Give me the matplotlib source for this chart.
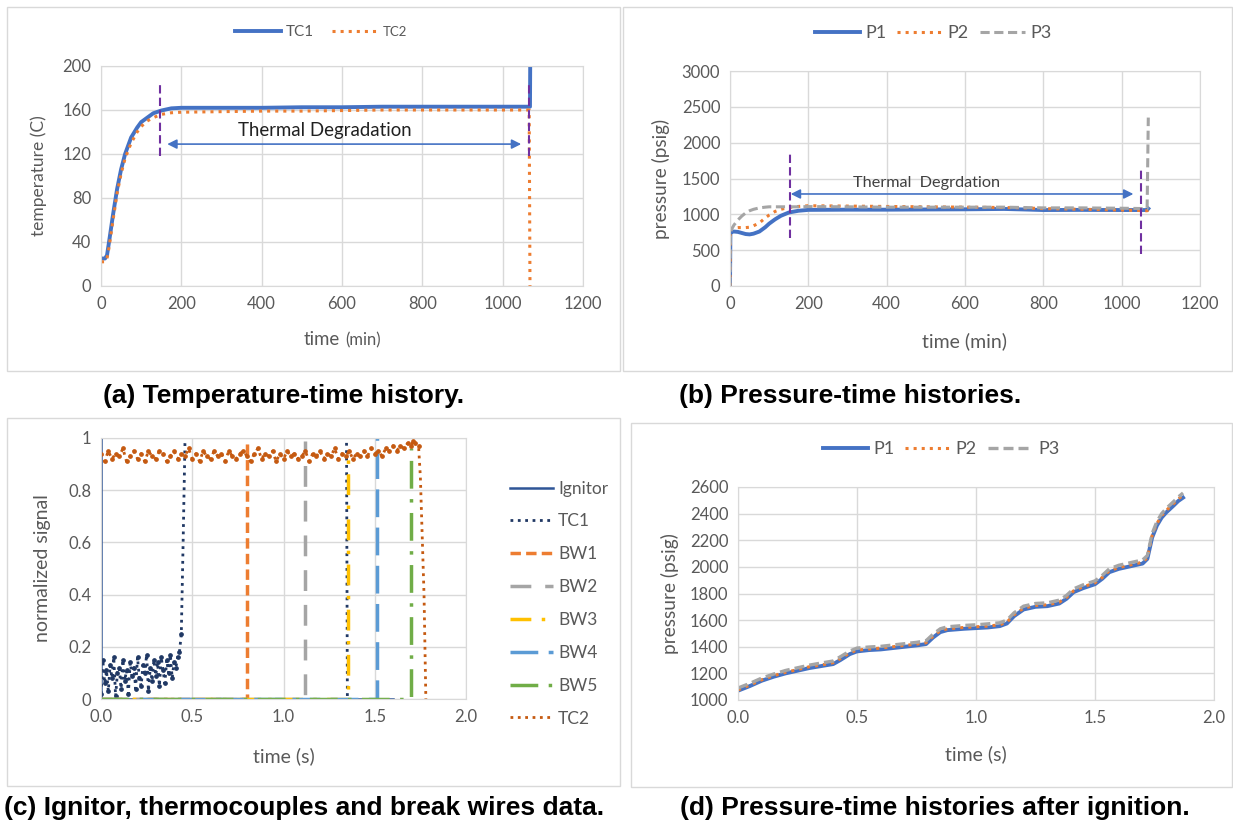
import matplotlib
matplotlib.use("Agg")
import matplotlib.pyplot as plt
from matplotlib.patches import Rectangle

# ---- (a) temperature-time history ----
a_t_tc1 = [0, 10, 15, 20, 30, 40, 50, 60, 75, 90, 100, 115, 130, 150, 175, 200,
           300, 400, 500, 600, 700, 800, 900, 1000, 1066, 1068, 1069]
a_tc1 = [25, 25, 28, 40, 65, 88, 106, 120, 135, 144, 149, 153, 157, 159.5, 161.5, 162,
         162, 162, 162.5, 162.5, 163, 163, 163, 163, 163, 163, 230]
a_t_tc2 = [0, 10, 15, 20, 30, 40, 50, 60, 75, 90, 100, 115, 130, 150, 175, 200,
           300, 400, 500, 600, 700, 800, 900, 1000, 1066, 1068]
a_tc2 = [22, 22, 25, 35, 60, 84, 102, 116, 130, 140, 145, 150, 153, 156, 157.5, 158,
         158.5, 159, 159, 159.5, 160, 160, 160, 160, 160, 0]

# ---- (b) pressure-time histories ----
b_t = [0, 1, 5, 10, 20, 30, 40, 50, 60, 75, 90, 100, 115, 130, 150, 175, 200,
       300, 400, 500, 600, 700, 750, 800, 900, 1000, 1065, 1068]
b_p1 = [0, 740, 755, 760, 755, 740, 725, 720, 730, 760, 820, 870, 930, 980, 1025, 1050, 1062,
        1065, 1065, 1068, 1070, 1075, 1068, 1060, 1062, 1060, 1060, 1080]
b_p2 = [0, 800, 805, 810, 815, 815, 815, 820, 840, 880, 950, 990, 1040, 1070, 1095, 1110, 1120,
        1115, 1110, 1105, 1100, 1095, 1090, 1080, 1070, 1060, 1050, 1060]
b_p3 = [0, 750, 800, 850, 920, 975, 1020, 1050, 1070, 1090, 1100, 1105, 1105, 1105, 1105, 1105, 1108,
        1105, 1100, 1100, 1100, 1100, 1095, 1090, 1090, 1085, 1080, 2350]

# ---- (c) ignitor, thermocouples, break wires ----
c_ign_t = [0, 0, 1.6]
c_ign = [1, 0, 0]
c_tc1_t = [0.00, 0.01, 0.02, 0.03, 0.04, 0.05, 0.06, 0.07, 0.08, 0.09,
           0.10, 0.11, 0.12, 0.13, 0.14, 0.15, 0.16, 0.17, 0.18, 0.19,
           0.20, 0.21, 0.22, 0.23, 0.24, 0.25, 0.26, 0.27, 0.28, 0.29,
           0.30, 0.31, 0.32, 0.33, 0.34, 0.35, 0.36, 0.37, 0.38, 0.39,
           0.40, 0.41, 0.42, 0.43, 0.44, 0.45, 0.46, 0.47, 1.345, 1.35]
c_tc1 = [0.02, 0.15, 0.06, 0.11, 0.03, 0.13, 0.08, 0.16, 0.01, 0.10,
         0.12, 0.04, 0.15, 0.07, 0.11, 0.02, 0.14, 0.09, 0.12, 0.04,
         0.16, 0.08, 0.05, 0.13, 0.10, 0.17, 0.03, 0.12, 0.07, 0.15,
         0.09, 0.14, 0.05, 0.16, 0.11, 0.06, 0.15, 0.10, 0.17, 0.08,
         0.14, 0.12, 0.16, 0.18, 0.25, 0.60, 0.98, 1.05, 1.05, 0.0]
c_tc2_t = [0.00, 0.02, 0.04, 0.06, 0.08, 0.10, 0.12, 0.14, 0.16, 0.18,
           0.20, 0.22, 0.24, 0.26, 0.28, 0.30, 0.32, 0.34, 0.36, 0.38,
           0.40, 0.42, 0.44, 0.46, 0.48, 0.50, 0.52, 0.54, 0.56, 0.58,
           0.60, 0.62, 0.64, 0.66, 0.68, 0.70, 0.72, 0.74, 0.76, 0.78,
           0.80, 0.82, 0.84, 0.86, 0.88, 0.90, 0.92, 0.94, 0.96, 0.98,
           1.00, 1.02, 1.04, 1.06, 1.08, 1.10, 1.12, 1.14, 1.16, 1.18,
           1.20, 1.22, 1.24, 1.26, 1.28, 1.30, 1.32, 1.34, 1.36, 1.38,
           1.40, 1.42, 1.44, 1.46, 1.48, 1.50, 1.52, 1.54, 1.56, 1.58,
           1.60, 1.62, 1.64, 1.66, 1.68, 1.70, 1.71, 1.72, 1.74, 1.75,
           1.77, 1.78]
c_tc2 = [0.94, 0.91, 0.95, 0.92, 0.94, 0.93, 0.96, 0.91, 0.93, 0.95,
         0.92, 0.94, 0.91, 0.95, 0.93, 0.92, 0.95, 0.94, 0.91, 0.93,
         0.95, 0.92, 0.94, 0.93, 0.96, 0.92, 0.94, 0.91, 0.95, 0.93,
         0.92, 0.95, 0.93, 0.94, 0.91, 0.95, 0.93, 0.92, 0.94, 0.95,
         0.93, 0.91, 0.94, 0.96, 0.92, 0.94, 0.93, 0.95, 0.91, 0.94,
         0.92, 0.95, 0.93, 0.94, 0.92, 0.93, 0.95, 0.91, 0.94, 0.93,
         0.95, 0.92, 0.94, 0.93, 0.96, 0.92, 0.94, 0.93, 0.95, 0.92,
         0.94, 0.93, 0.95, 0.93, 0.96, 0.94, 0.95, 0.93, 0.96, 0.95,
         0.97, 0.95, 0.97, 0.96, 0.98, 0.97, 0.99, 0.98, 0.97, 0.85,
         0.40, 0.0]
c_bw_names = ["BW1", "BW2", "BW3", "BW4", "BW5"]
c_bw_break = [0.80, 1.12, 1.355, 1.51, 1.70]
c_bw_top = [0.99, 0.99, 0.93, 1.0, 0.96]

# ---- (d) pressure after ignition ----
d_t = [0.00, 0.05, 0.10, 0.15, 0.20, 0.25, 0.30, 0.35, 0.40, 0.43,
       0.47, 0.50, 0.55, 0.60, 0.65, 0.70, 0.75, 0.79, 0.82, 0.85,
       0.88, 0.95, 1.00, 1.05, 1.10, 1.13, 1.16, 1.20, 1.25, 1.30,
       1.35, 1.38, 1.41, 1.45, 1.50, 1.53, 1.56, 1.60, 1.65, 1.70,
       1.72, 1.74, 1.76, 1.78, 1.80, 1.83, 1.85, 1.87]
d_p1 = [1070, 1105, 1145, 1175, 1200, 1220, 1240, 1255, 1270, 1300,
        1345, 1365, 1375, 1380, 1390, 1400, 1410, 1420, 1470, 1510,
        1525, 1535, 1540, 1545, 1555, 1575, 1630, 1680, 1700, 1705,
        1725, 1760, 1810, 1840, 1870, 1910, 1960, 1985, 2005, 2025,
        2060, 2220, 2310, 2370, 2410, 2460, 2495, 2520]
d_p2 = [1075, 1112, 1152, 1183, 1208, 1228, 1250, 1263, 1280, 1310,
        1355, 1375, 1383, 1390, 1400, 1410, 1420, 1430, 1480, 1520,
        1535, 1545, 1550, 1555, 1565, 1585, 1640, 1690, 1710, 1715,
        1735, 1770, 1820, 1850, 1880, 1920, 1970, 1995, 2015, 2035,
        2070, 2235, 2325, 2385, 2425, 2475, 2510, 2540]
d_p3 = [1090, 1125, 1165, 1195, 1222, 1242, 1262, 1278, 1293, 1325,
        1368, 1390, 1398, 1403, 1413, 1423, 1433, 1445, 1495, 1535,
        1550, 1560, 1565, 1572, 1580, 1600, 1655, 1705, 1725, 1730,
        1750, 1785, 1835, 1865, 1895, 1935, 1985, 2012, 2032, 2052,
        2085, 2250, 2340, 2400, 2440, 2490, 2525, 2555]

BLUE = "#4472C4"
ORANGE = "#ED7D31"
GRAY = "#A5A5A5"
PURPLE = "#7030A0"
TXT = "#595959"
GRID = "#D9D9D9"

plt.rcParams["font.family"] = ["Lato", "DejaVu Sans"]

W, H = 1233, 824
fig = plt.figure(figsize=(W / 100, H / 100), dpi=100)


def px_axes(x0, y0, x1, y1):
    # pixel box (top-left origin) -> figure axes
    return fig.add_axes([x0 / W, 1 - y1 / H, (x1 - x0) / W, (y1 - y0) / H])


def style(ax):
    ax.grid(True, color=GRID, lw=1)
    ax.set_axisbelow(True)
    for s in ax.spines.values():
        s.set_color(GRID)
    ax.tick_params(length=0, labelsize=12, labelcolor=TXT, pad=7)


def frame(x0, y0, x1, y1):
    fig.add_artist(Rectangle((x0 / W, 1 - y1 / H), (x1 - x0) / W, (y1 - y0) / H,
                             transform=fig.transFigure, fill=False, ec=GRID, lw=1))


def fig_xy(x, y):
    return (x / W, 1 - y / H)


frame(7, 7, 620, 371)
frame(623, 7, 1232, 371)
frame(7, 418, 620, 786)
frame(631, 423, 1232, 787)

# (a)
ax = px_axes(101, 66, 583, 286)
style(ax)
ax.plot(a_t_tc1, a_tc1, color=BLUE, lw=2.8, label="TC1")
ax.plot(a_t_tc2, a_tc2, color=ORANGE, lw=2.2, ls=":", label="TC2")
ax.set_xlim(0, 1200)
ax.set_ylim(0, 200)
ax.set_xticks(range(0, 1201, 200))
ax.set_yticks(range(0, 201, 40))
ax.vlines([147, 1066], 118, 186, color=PURPLE, lw=1.5, linestyles=(0, (4, 2)))
ax.annotate("", xy=(1053, 129), xytext=(158, 129),
            arrowprops=dict(arrowstyle="<|-|>", color=BLUE, lw=1.2, mutation_scale=14))
ax.text(558, 141, "Thermal Degradation", ha="center", va="center", fontsize=13.4, color="#202020")
ax.set_ylabel("temperature (C)", fontsize=12.5, color=TXT)
ax.yaxis.set_label_coords(-0.112, 0.5)
ax.text(0.496, -0.245, "time", transform=ax.transAxes, ha="right", va="center",
        fontsize=13.4, color=TXT)
ax.text(0.506, -0.245, "(min)", transform=ax.transAxes, ha="left", va="center",
        fontsize=12, color=TXT)
leg = ax.legend(loc="center", bbox_to_anchor=fig_xy(321, 32), bbox_transform=fig.transFigure,
                ncol=2, frameon=False, fontsize=11, labelcolor=TXT, handlelength=3.0,
                columnspacing=1.2, handletextpad=0.3)
leg.get_texts()[1].set_fontsize(9.5)

# (b)
ax = px_axes(730, 71, 1200, 286)
style(ax)
ax.plot(b_t, b_p1, color=BLUE, lw=2.8, label="P1")
ax.plot(b_t, b_p2, color=ORANGE, lw=2.2, ls=":", label="P2")
ax.plot(b_t, b_p3, color=GRAY, lw=2.2, ls=(0, (3, 1.5)), label="P3")
ax.set_xlim(0, 1200)
ax.set_ylim(0, 3000)
ax.set_xticks(range(0, 1201, 200))
ax.set_yticks(range(0, 3001, 500))
ax.vlines([153], 670, 1870, color=PURPLE, lw=1.5, linestyles=(0, (4, 2)))
ax.vlines([1049], 447, 1646, color=PURPLE, lw=1.5, linestyles=(0, (4, 2)))
ax.annotate("", xy=(1037, 1284), xytext=(148, 1284),
            arrowprops=dict(arrowstyle="<|-|>", color=BLUE, lw=1.2, mutation_scale=14))
ax.text(503, 1441, "Thermal  Degrdation", ha="center", va="center", fontsize=11.7, color="#404040")
ax.set_ylabel("pressure (psig)", fontsize=13.7, color=TXT)
ax.yaxis.set_label_coords(-0.128, 0.5)
ax.set_xlabel("time (min)", fontsize=14, color=TXT)
ax.xaxis.set_label_coords(0.5, -0.214)
ax.legend(loc="center", bbox_to_anchor=fig_xy(933, 33), bbox_transform=fig.transFigure,
          ncol=3, frameon=False, fontsize=13, labelcolor=TXT, handlelength=2.5,
          columnspacing=0.6, handletextpad=0.3)

# (c)
ax = px_axes(101, 438, 466, 699)
style(ax)
ax.plot(c_ign_t, c_ign, color="#2F5597", lw=1.8, label="Ignitor")
ax.plot(c_tc1_t, c_tc1, color="#203864", lw=2.0, ls=":", label="TC1")
ax.plot(c_tc1_t, c_tc1, color="#203864", ls="none", marker="o", ms=2.4, markevery=slice(0, 45))
bw_colors = [ORANGE, GRAY, "#FFC000", "#5B9BD5", "#70AD47"]
bw_styles = [(0, (3, 1.5)), (0, (6, 4)), (0, (6, 3, 1, 3)), (0, (8, 3)), (0, (8, 3, 1, 3))]
for name, tb, top, col, st in zip(c_bw_names, c_bw_break, c_bw_top, bw_colors, bw_styles):
    ax.plot([0, tb, tb], [0, 0, top], color=col, lw=2.5, ls=st, label=name)
ax.plot(c_tc2_t, c_tc2, color="#C55A11", lw=2.0, ls=":", label="TC2")
ax.plot(c_tc2_t, c_tc2, color="#C55A11", ls="none", marker="o", ms=2.4, markevery=slice(0, 89))
ax.set_xlim(0, 2)
ax.set_ylim(0, 1)
ax.set_xticks([0, 0.5, 1.0, 1.5, 2.0])
ax.set_xticklabels(["0.0", "0.5", "1.0", "1.5", "2.0"])
ax.set_yticks([0, 0.2, 0.4, 0.6, 0.8, 1.0])
ax.set_yticklabels(["0", "0.2", "0.4", "0.6", "0.8", "1"])
ax.set_ylabel("normalized signal", fontsize=14, color=TXT)
ax.yaxis.set_label_coords(-0.137, 0.5)
ax.set_xlabel("time (s)", fontsize=14, color=TXT)
ax.xaxis.set_label_coords(0.5, -0.184)
ax.legend(loc="upper left", bbox_to_anchor=fig_xy(494, 465), bbox_transform=fig.transFigure,
          frameon=False, fontsize=12.5, labelcolor=TXT, handlelength=2.5, labelspacing=0.97,
          handletextpad=0.3)

# (d)
ax = px_axes(738, 487, 1214, 700)
style(ax)
ax.plot(d_t, d_p1, color=BLUE, lw=2.8, label="P1")
ax.plot(d_t, d_p2, color=ORANGE, lw=2.2, ls=":", label="P2")
ax.plot(d_t, d_p3, color=GRAY, lw=2.4, ls=(0, (3, 1.5)), label="P3")
ax.set_xlim(0, 2)
ax.set_ylim(1000, 2600)
ax.set_xticks([0, 0.5, 1.0, 1.5, 2.0])
ax.set_xticklabels(["0.0", "0.5", "1.0", "1.5", "2.0"])
ax.set_yticks(range(1000, 2601, 200))
ax.set_ylabel("pressure (psig)", fontsize=13.8, color=TXT)
ax.yaxis.set_label_coords(-0.124, 0.5)
ax.set_xlabel("time (s)", fontsize=14, color=TXT)
ax.xaxis.set_label_coords(0.5, -0.211)
ax.legend(loc="center", bbox_to_anchor=fig_xy(941, 449), bbox_transform=fig.transFigure,
          ncol=3, frameon=False, fontsize=13, labelcolor=TXT, handlelength=2.5,
          columnspacing=0.6, handletextpad=0.3)

# captions
cap = dict(fontsize=19, fontweight="bold", family=["Liberation Sans", "DejaVu Sans"],
           va="center", color="black")
fig.text(103 / W, 1 - 396 / H, "(a) Temperature-time history.", ha="left", **cap)
fig.text(679 / W, 1 - 396 / H, "(b) Pressure-time histories.", ha="left", **cap)
fig.text(4 / W, 1 - 808 / H, "(c) Ignitor, thermocouples and break wires data.", ha="left", **cap)
fig.text(680 / W, 1 - 808 / H, "(d) Pressure-time histories after ignition.", ha="left", **cap)

fig.savefig("out.png", dpi=100)
